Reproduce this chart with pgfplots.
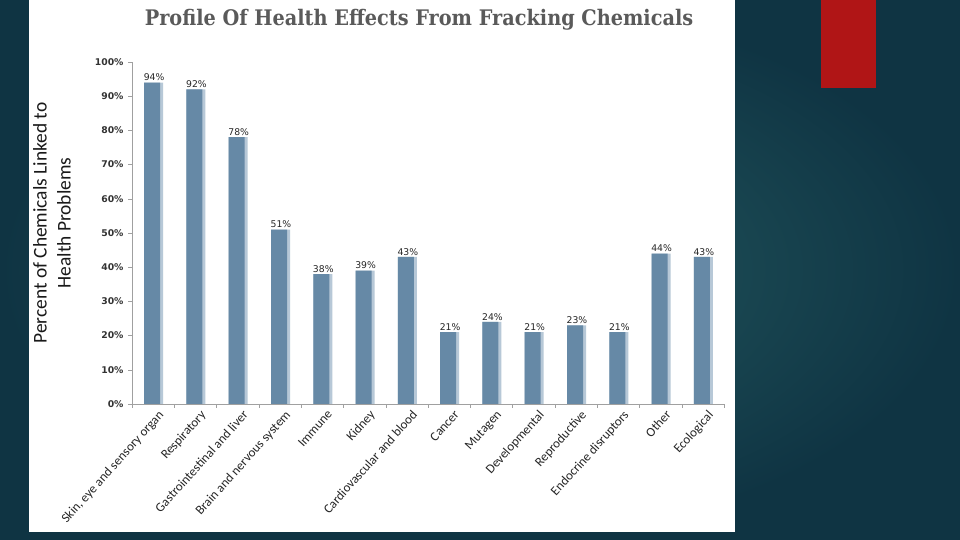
\documentclass[border=0pt]{standalone}
\usepackage{fontspec}
\setmainfont{Carlito}
\newfontfamily\titlefont{DejaVu Serif}
\newfontfamily\tickfont{DejaVu Sans}
\usepackage{pgfplots}
\pgfplotsset{compat=1.18}
\definecolor{bgin}{HTML}{245A60}
\definecolor{bgout}{HTML}{0F3443}
\definecolor{barc}{HTML}{6689A6}
\definecolor{barlite}{HTML}{B7C8D7}
\definecolor{slidered}{HTML}{B01516}
\definecolor{titlegray}{HTML}{5A5A5A}
\definecolor{axisgray}{HTML}{A0A0A0}

\begin{document}
\begin{tikzpicture}[x=1bp, y=1bp]
\useasboundingbox (0,0) rectangle (960,540);
% slide background
\shade[inner color=bgin, outer color=bgout] (0,0) rectangle (960,540);
\fill[white] (29,8) rectangle (735,540);
\fill[slidered] (821,452) rectangle (876,540);

\node[font=\titlefont\bfseries\fontsize{21.5}{24}\selectfont, text=titlegray]
  at (419,520) {\scalebox{0.9}[1]{Profile Of Health Effects From Fracking Chemicals}};

\node[rotate=90, align=center, font=\fontsize{19.5}{24}\selectfont, text=black!90]
  at (52,317) {Percent of Chemicals Linked to\\Health Problems};

\begin{axis}[
  at={(132bp,136bp)}, anchor=south west,
  scale only axis, width=592bp, height=342bp,
  xmin=-0.5, xmax=13.5, ymin=0, ymax=100,
  axis x line=bottom, axis y line=left,
  axis line style={-, draw=axisgray, line width=0.6pt},
  ytick={0,10,...,100},
  yticklabel={\pgfmathprintnumber{\tick}\%},
  yticklabel style={font=\tickfont\bfseries\fontsize{9.3}{10}\selectfont, text=black!80, xshift=-1bp},
  y tick style={draw=axisgray},
  tick align=outside, major tick length=4bp,
  xtick={0,...,13},
  x tick style={draw=none},
  minor xtick={-0.5,0.5,...,13.5},
  minor x tick style={draw=axisgray},
  minor tick length=4bp,
  xticklabels={{Skin, eye and sensory organ}, Respiratory, Gastrointestinal and liver,
    Brain and nervous system, Immune, Kidney, Cardiovascular and blood, Cancer,
    Mutagen, Developmental, Reproductive, Endocrine disruptors, Other, Ecological},
  xticklabel style={rotate=48, anchor=north east, font=\fontsize{13}{14}\selectfont,
    text=black!85, inner sep=1bp, xshift=3bp, yshift=-3bp},
  /pgf/number format/assume math mode=true,
  clip=false,
]
\addplot[ybar, bar width=19bp, bar shift=0.5bp, fill=barlite, draw=none] coordinates {
  (0,94)(1,92)(2,78)(3,51)(4,38)(5,39)(6,43)(7,21)(8,24)(9,21)(10,23)(11,21)(12,44)(13,43)
};
\addplot[ybar, bar width=16bp, bar shift=-1bp, fill=barc, draw=none,
  nodes near coords={\pgfmathprintnumber{\pgfplotspointmeta}\%},
  every node near coord/.append style={font=\tickfont\fontsize{9.3}{10}\selectfont,
    text=black!85, xshift=1bp, inner sep=1.5bp}] coordinates {
  (0,94)(1,92)(2,78)(3,51)(4,38)(5,39)(6,43)(7,21)(8,24)(9,21)(10,23)(11,21)(12,44)(13,43)
};
\end{axis}
\end{tikzpicture}
\end{document}
